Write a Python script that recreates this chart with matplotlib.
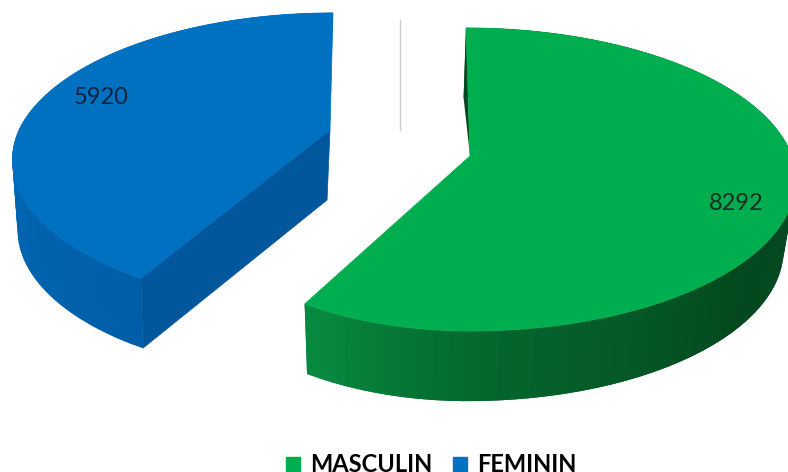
import numpy as np
import matplotlib.pyplot as plt
from matplotlib.colors import to_rgb
from matplotlib.patches import Patch

plt.switch_backend('Agg')

categories = ['MASCULIN', 'FEMININ']
values = [8292, 5920]
top_colors = ['#00AE50', '#0070C0']

DEPTH = 70

# cx, cy, rx left, rx right, ry, perspective k, bottom scale, bottom pivot, shear
slices = [
    (470, 156, 286, 322, 148, 0.155, 0.97, 386, -4),
    (330, 130, 311, 311, 141, 0.204, 0.974, 217, 3),
]
wall_stops = [
    ([90, 130, 180, 210], ['#044A20', '#04481F', '#05682F', '#078C41']),
    ([210, 270, 360], ['#005EA8', '#0068B4', '#0068B4']),
]
cut_colors = ['#03481F', '#02569B']


def project(theta, geo):
    cx, cy, rxl, rxr, ry, k, _, _, shear = geo
    t = np.radians(theta)
    u, v = np.sin(t), np.cos(t)
    s = 1 / (1 + k * v)
    rx = np.where(u < 0, rxl, rxr)
    return cx + rx * u * s + shear * np.maximum(v, 0), cy - ry * v * s


def lower(x, y, geo):
    scale, pivot = geo[6], geo[7]
    return pivot + (x - pivot) * scale, y + DEPTH


def ramp(theta, stops, colors):
    rgb = np.array([to_rgb(c) for c in colors])
    return tuple(np.interp(theta, stops, rgb[:, i]) for i in range(3))


fig = plt.figure(figsize=(7.88, 4.72), dpi=100)
ax = fig.add_axes([0, 0, 1, 1])
ax.set_xlim(0, 788)
ax.set_ylim(472, 0)
ax.axis('off')

ax.plot([400, 400], [20, 130], color='#CFCFCF', lw=1)

total = sum(values)
start = 0
for i, val in enumerate(values):
    geo = slices[i]
    stop = start + 360 * val / total
    th = np.linspace(start, stop, 80)
    x, y = project(th, geo)
    bx, by = lower(x, y, geo)
    cx, cy = geo[0], geo[1]
    bcx, bcy = lower(cx, cy, geo)

    # outer wall, quads overlap the next step so no seams show
    for j in range(len(th) - 1):
        e = min(j + 2, len(th) - 1)
        col = ramp((th[j] + th[j + 1]) / 2, *wall_stops[i])
        ax.fill([x[j], x[j + 1], x[e], bx[e], bx[j + 1], bx[j]],
                [y[j], y[j + 1], y[e], by[e], by[j + 1], by[j]],
                color=col, lw=0)

    # cut faces
    if i == 0:
        ax.fill([x[0], bx[0], cx], [y[0], by[0], cy], color=cut_colors[i], lw=0)
    else:
        ax.fill([cx, x[0], bx[0], bcx], [cy, y[0], by[0], bcy],
                color=cut_colors[i], lw=0.5)

    ax.fill(np.r_[cx, x], np.r_[cy, y], color=top_colors[i], lw=0.5)
    start = stop

ax.text(736, 203, str(values[0]), family='Lato', fontsize=17,
        color='#1A2A20', ha='center', va='center')
ax.text(101, 97, str(values[1]), family='Lato', fontsize=17,
        color='#10233A', ha='center', va='center')

handles = [Patch(color=c) for c in top_colors]
ax.legend(handles, categories, loc='center', bbox_to_anchor=(431 / 788, 1 - 465 / 472),
          ncol=2, frameon=False, handlelength=0.62, handleheight=0.62,
          handletextpad=0.4, columnspacing=0.88,
          prop={'family': 'Lato', 'weight': 'bold', 'size': 17})

fig.savefig('out.png', dpi=100)
plt.close()
